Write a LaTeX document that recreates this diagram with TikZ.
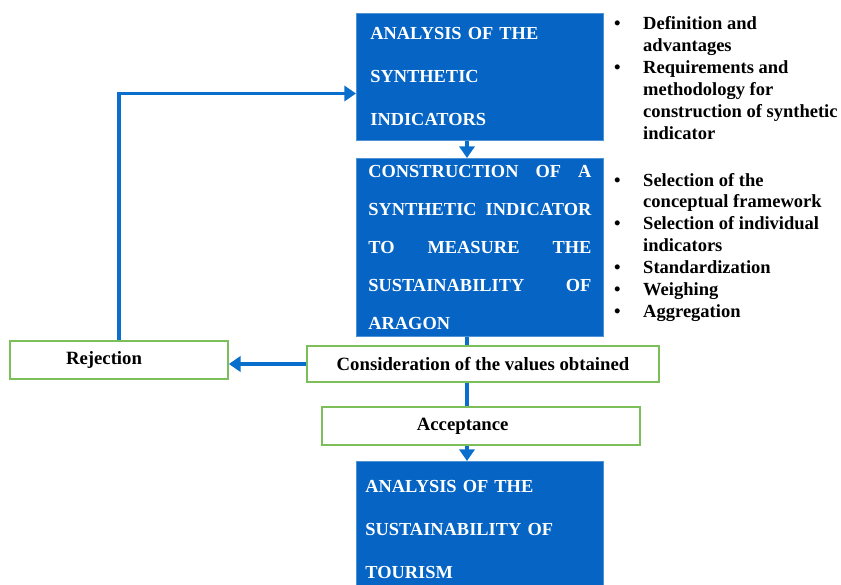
\documentclass[tikz,border=0pt]{standalone}
\usepackage{fontspec}
\setmainfont{Liberation Serif}
\usetikzlibrary{arrows.meta, positioning}
\definecolor{boxblue}{RGB}{5,100,196}
\definecolor{boxgreen}{RGB}{124,190,90}
\definecolor{lineblue}{RGB}{10,110,205}

\begin{document}
\begin{tikzpicture}[
	x=0.03cm, y=-0.03cm,
	bluebox/.style={rectangle, draw=boxblue!70!white, line width=0.6pt, fill=boxblue, text=white, anchor=north west, align=left, inner ysep=0pt, minimum width=7.41cm},
	greenbox/.style={rectangle, draw=boxgreen, line width=1.4pt, fill=white, inner sep=0pt, align=center, font=\fontsize{16}{19}\selectfont\bfseries},
	bullets/.style={anchor=north west, inner sep=0pt, font=\fontsize{15.8}{18.7}\selectfont\bfseries},
	link/.style={draw=lineblue, line width=3pt},
	arr/.style={link, -{Triangle[length=10pt, width=13pt]}}
	]
	\useasboundingbox (0,0) rectangle (841,584);
	\coordinate (spine) at (467,0);

	% main column
	\node[bluebox, minimum height=3.81cm, inner xsep=0.42cm, text width=6.57cm, font=\fontsize{15.7}{36.7}\selectfont\bfseries] (anasyn) at (356,13) {ANALYSIS OF THE\\ SYNTHETIC\\ INDICATORS};
	\node[bluebox, minimum height=5.34cm, inner xsep=0.36cm, text width=6.69cm, font=\fontsize{15.7}{32.4}\selectfont\bfseries] (constr) at (356,158) {CONSTRUCTION\hfill OF\hfill A\\ SYNTHETIC\hfill INDICATOR\\ TO\hfill MEASURE\hfill THE\\ SUSTAINABILITY\hfill OF\\ ARAGON};
	\node[greenbox, minimum width=10.56cm, minimum height=1.08cm] (consid) at (483,364) {Consideration of the values obtained};
	\node[greenbox, minimum width=9.54cm, minimum height=1.14cm] (accept) at (481,426) {Acceptance\hspace*{1.1cm}};
	\node[bluebox, minimum height=4.08cm, inner xsep=0.27cm, text width=6.87cm, font=\fontsize{15.7}{36.7}\selectfont\bfseries] (anatour) at (356,461) {ANALYSIS OF THE\\ SUSTAINABILITY OF\\ TOURISM};
	\node[greenbox, minimum width=6.54cm, minimum height=1.14cm] (reject) at (119,360) {Rejection\hspace*{0.9cm}};

	% side lists
	\node[bullets] (listA) at (614,14) {\begin{tabular}{@{}p{0.87cm}@{}l@{}}
		\textbullet & Definition and\\
		& advantages\\
		\textbullet & Requirements and\\
		& methodology for\\
		& construction of synthetic\\
		& indicator
	\end{tabular}};
	\node[bullets] (listB) at (614,170.5) {\begin{tabular}{@{}p{0.87cm}@{}l@{}}
		\textbullet & Selection of the\\
		& conceptual framework\\
		\textbullet & Selection of individual\\
		& indicators\\
		\textbullet & Standardization\\
		\textbullet & Weighing\\
		\textbullet & Aggregation
	\end{tabular}};

	% connectors
	\draw[arr] (anasyn.south -| spine) -- (constr.north -| spine);
	\draw[link] (constr.south -| spine) -- (consid.north -| spine);
	\draw[link] (consid.south -| spine) -- (accept.north -| spine);
	\draw[arr] (accept.south -| spine) -- (anatour.north -| spine);
	\draw[arr] (consid.west) -- (consid.west -| reject.east);
	\draw[arr] (reject.north) |- ([yshift=-0.5cm]anasyn.west);
\end{tikzpicture}
\end{document}
